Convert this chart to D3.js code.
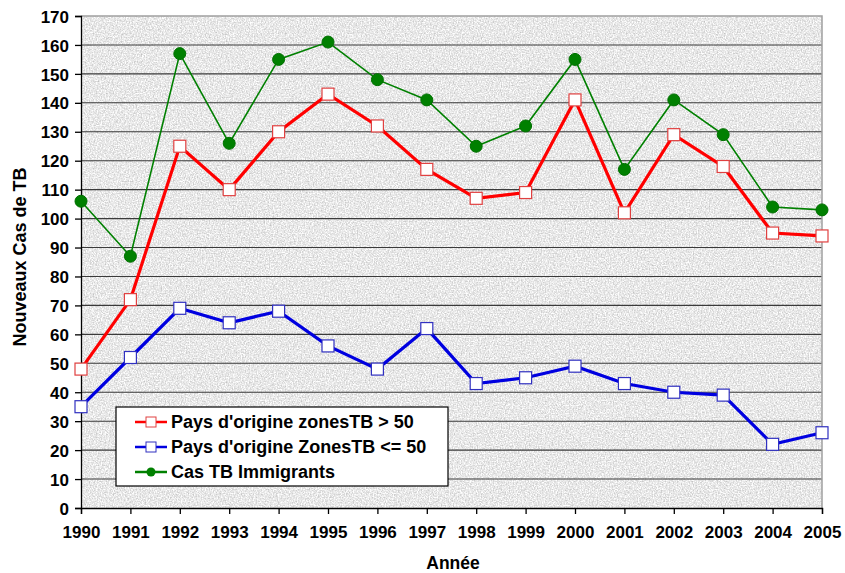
<!DOCTYPE html>
<html>
<head>
<meta charset="utf-8">
<script src="https://cdn.jsdelivr.net/npm/d3@7/dist/d3.min.js"></script>
<style>
  body { margin: 0; background: #fff; }
  text { font-family: "Liberation Sans", Arial, sans-serif; font-weight: bold; }
</style>
</head>
<body>
<div id="chart"></div>
<script>
const years = [1990, 1991, 1992, 1993, 1994, 1995, 1996, 1997, 1998, 1999, 2000, 2001, 2002, 2003, 2004, 2005]
const highZone = [48, 72, 125, 110, 130, 143, 132, 117, 107, 109, 141, 102, 129, 118, 95, 94]
const lowZone = [35, 52, 69, 64, 68, 56, 48, 62, 43, 45, 49, 43, 40, 39, 22, 26]
const immigrants = [106, 87, 157, 126, 155, 161, 148, 141, 125, 132, 155, 117, 141, 129, 104, 103]
const yTicks = d3.range(0, 171, 10)
const seriesNames = ["Pays d'origine zonesTB > 50", "Pays d'origine ZonesTB <= 50", 'Cas TB Immigrants']

const width = 845
const height = 573
const margin = { top: 16, right: 23, bottom: 65, left: 81 }

const svg = d3.select('#chart').append('svg')
  .attr('width', width)
  .attr('height', height)

// grainy background like the excel fill
const defs = svg.append('defs')
const f = defs.append('filter').attr('id', 'grain')
  .attr('x', 0).attr('y', 0).attr('width', '100%').attr('height', '100%')
  .attr('color-interpolation-filters', 'sRGB')
f.append('feTurbulence').attr('type', 'fractalNoise').attr('baseFrequency', 0.75).attr('numOctaves', 2).attr('seed', 3).attr('result', 'noise')
f.append('feColorMatrix').attr('in', 'noise').attr('type', 'matrix')
  .attr('values', '0.4 0 0 0 0.71  0.4 0 0 0 0.71  0.4 0 0 0 0.71  0 0 0 0 1')

const x = d3.scalePoint()
  .domain(years)
  .range([margin.left, width - margin.right])

const y = d3.scaleLinear()
  .domain([0, 170])
  .range([height - margin.bottom, margin.top])

const plotW = width - margin.right - margin.left
const plotH = height - margin.bottom - margin.top

svg.append('rect')
  .attr('x', margin.left)
  .attr('y', margin.top)
  .attr('width', plotW)
  .attr('height', plotH)
  .style('fill', '#e8e8e8')
  .attr('filter', 'url(#grain)')

// gridlines
svg.append('g')
  .selectAll('line').data(yTicks.filter(d => d > 0 && d < 170)).enter()
  .append('line')
  .attr('x1', margin.left)
  .attr('x2', width - margin.right)
  .attr('y1', d => y(d))
  .attr('y2', d => y(d))
  .style('stroke', '#3a3a3a')
  .style('stroke-width', 1.1)

// plot border top/right
svg.append('path')
  .attr('d', `M${margin.left},${y(170)}H${width - margin.right}V${y(0)}`)
  .style('fill', 'none')
  .style('stroke', '#a0a0a0')
  .style('stroke-width', 1.5)

// axes
const yAxis = svg.append('g')
  .attr('transform', `translate(${margin.left},0)`)
  .call(d3.axisLeft(y).tickValues(yTicks).tickSize(6).tickPadding(6))
const xAxis = svg.append('g')
  .attr('transform', `translate(0,${y(0)})`)
  .call(d3.axisBottom(x).tickSize(6).tickPadding(12).tickFormat(d3.format('d')))

;[yAxis, xAxis].forEach(a => {
  a.select('.domain').style('stroke', '#000').style('stroke-width', 1.3)
  a.selectAll('.tick line').style('stroke', '#000').style('stroke-width', 1.3)
  a.selectAll('.tick text').style('font-size', '17px').style('fill', '#000')
})
yAxis.selectAll('.tick text').attr('dy', '0.36em')

// titles
svg.append('text')
  .attr('x', 453)
  .attr('y', 569)
  .attr('text-anchor', 'middle')
  .style('font-size', '17.5px')
  .text('Année')

svg.append('text')
  .attr('transform', `translate(26,257) rotate(-90)`)
  .attr('text-anchor', 'middle')
  .style('font-size', '18px')
  .text('Nouveaux Cas de TB')

// series
const line = d3.line()
  .x(d => x(d.year))
  .y(d => y(d.value))

function toPoints(vals) {
  return years.map((yr, i) => ({ year: yr, value: vals[i] }))
}

const series = [
  { name: seriesNames[0], values: toPoints(highZone), color: '#ff0000', width: 3.2, marker: 'square', mstroke: '#e04040' },
  { name: seriesNames[1], values: toPoints(lowZone), color: '#0000e0', width: 3.2, marker: 'square', mstroke: '#3030c0' },
  { name: seriesNames[2], values: toPoints(immigrants), color: '#008000', width: 1.6, marker: 'circle', mstroke: '#007000' }
]

series.forEach(s => {
  const g = svg.append('g')
  g.append('path')
    .datum(s.values)
    .attr('d', line)
    .style('fill', 'none')
    .style('stroke', s.color)
    .style('stroke-width', s.width)
  if (s.marker === 'square') {
    g.selectAll('rect').data(s.values).enter()
      .append('rect')
      .attr('x', d => x(d.year) - 6)
      .attr('y', d => y(d.value) - 6)
      .attr('width', 12)
      .attr('height', 12)
      .style('fill', '#fff')
      .style('stroke', s.mstroke)
      .style('stroke-width', 1.2)
  } else {
    g.selectAll('circle').data(s.values).enter()
      .append('circle')
      .attr('cx', d => x(d.year))
      .attr('cy', d => y(d.value))
      .attr('r', 6)
      .style('fill', s.color)
      .style('stroke', s.mstroke)
  }
})

// legend
const lg = svg.append('g').attr('transform', 'translate(116,407)')
lg.append('rect')
  .attr('width', 332)
  .attr('height', 79)
  .style('fill', '#fff')
  .style('stroke', '#000')
  .style('stroke-width', 1.2)

const item = lg.selectAll('g.item').data(series).enter()
  .append('g')
  .classed('item', true)
  .attr('transform', (d, i) => `translate(0,${15 + i * 25})`)

item.append('line')
  .attr('x1', 19).attr('x2', 51)
  .style('stroke', d => d.color)
  .style('stroke-width', 2.5)

item.each(function (d) {
  const it = d3.select(this)
  if (d.marker === 'square') {
    it.append('rect')
      .attr('x', 30).attr('y', -5)
      .attr('width', 10).attr('height', 10)
      .style('fill', '#fff')
      .style('stroke', d.mstroke)
  } else {
    it.append('circle').attr('cx', 35).attr('r', 4.5).style('fill', d.color)
  }
})

item.append('text')
  .attr('x', 55)
  .attr('dy', '0.36em')
  .style('font-size', '18px')
  .text(d => d.name)
</script>
</body>
</html>
